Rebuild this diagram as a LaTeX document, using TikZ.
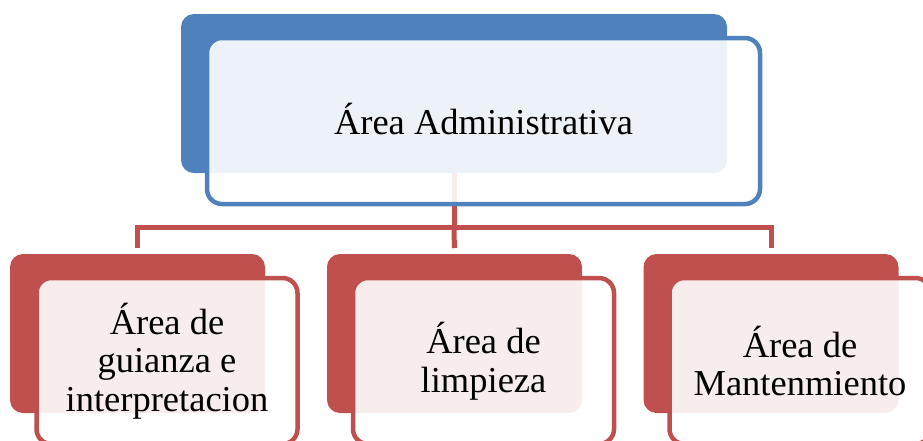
\documentclass[tikz,border=0pt]{standalone}
\usepackage{fontspec}
\setmainfont{Liberation Serif}
\definecolor{accblue}{HTML}{4F81BD}
\definecolor{accred}{HTML}{C0504D}
\begin{document}
\begin{tikzpicture}[x=1pt,y=1pt,
  backbox/.style={rectangle, rounded corners=13pt, inner sep=0pt, outer sep=0pt, draw=none},
  frontbox/.style={rectangle, rounded corners=15pt, inner sep=0pt, outer sep=0pt, line width=4.5pt, fill=white, fill opacity=0.9, text opacity=1, align=center, font=\fontsize{36.5}{38.5}\selectfont},
  conn/.style={draw=accred, line width=5pt},
  topback/.style={backbox, fill=accblue, minimum width=546pt, minimum height=159pt},
  topfront/.style={frontbox, draw=accblue, minimum width=553pt, minimum height=166pt},
  childback/.style={backbox, fill=accred, minimum width=255pt, minimum height=159pt},
  childfront/.style={frontbox, draw=accred, minimum width=261pt, minimum height=166pt}
]
\useasboundingbox (0,0) rectangle (923,-440);
\node[topback] (tb) at (454,-93.5) {};
\coordinate (bus) at (454,-227.5);
\node[childback] (c1b) at (137.5,-333.5) {};
\node[childback] (c2b) at (454.5,-333.5) {};
\node[childback] (c3b) at (771,-333.5) {};
\draw[conn] (tb.south) -- (bus);
\draw[conn, shorten >=6pt] (bus) -| (c1b.north);
\draw[conn, shorten >=6pt] (bus) -| (c3b.north);
\draw[conn, shorten >=6pt] (bus) -- (c2b.north);
\node[topfront] (tf) at (483.5,-121) {\raisebox{4pt}{Área Administrativa}};
\node[childfront] (c1f) at (167,-361) {Área de\\guianza e\\interpretacion};
\node[childfront] (c2f) at (483.5,-361) {Área de\\limpieza};
\node[childfront] (c3f) at (800,-361) {Área de\\Mantenmiento};
\end{tikzpicture}
\end{document}
